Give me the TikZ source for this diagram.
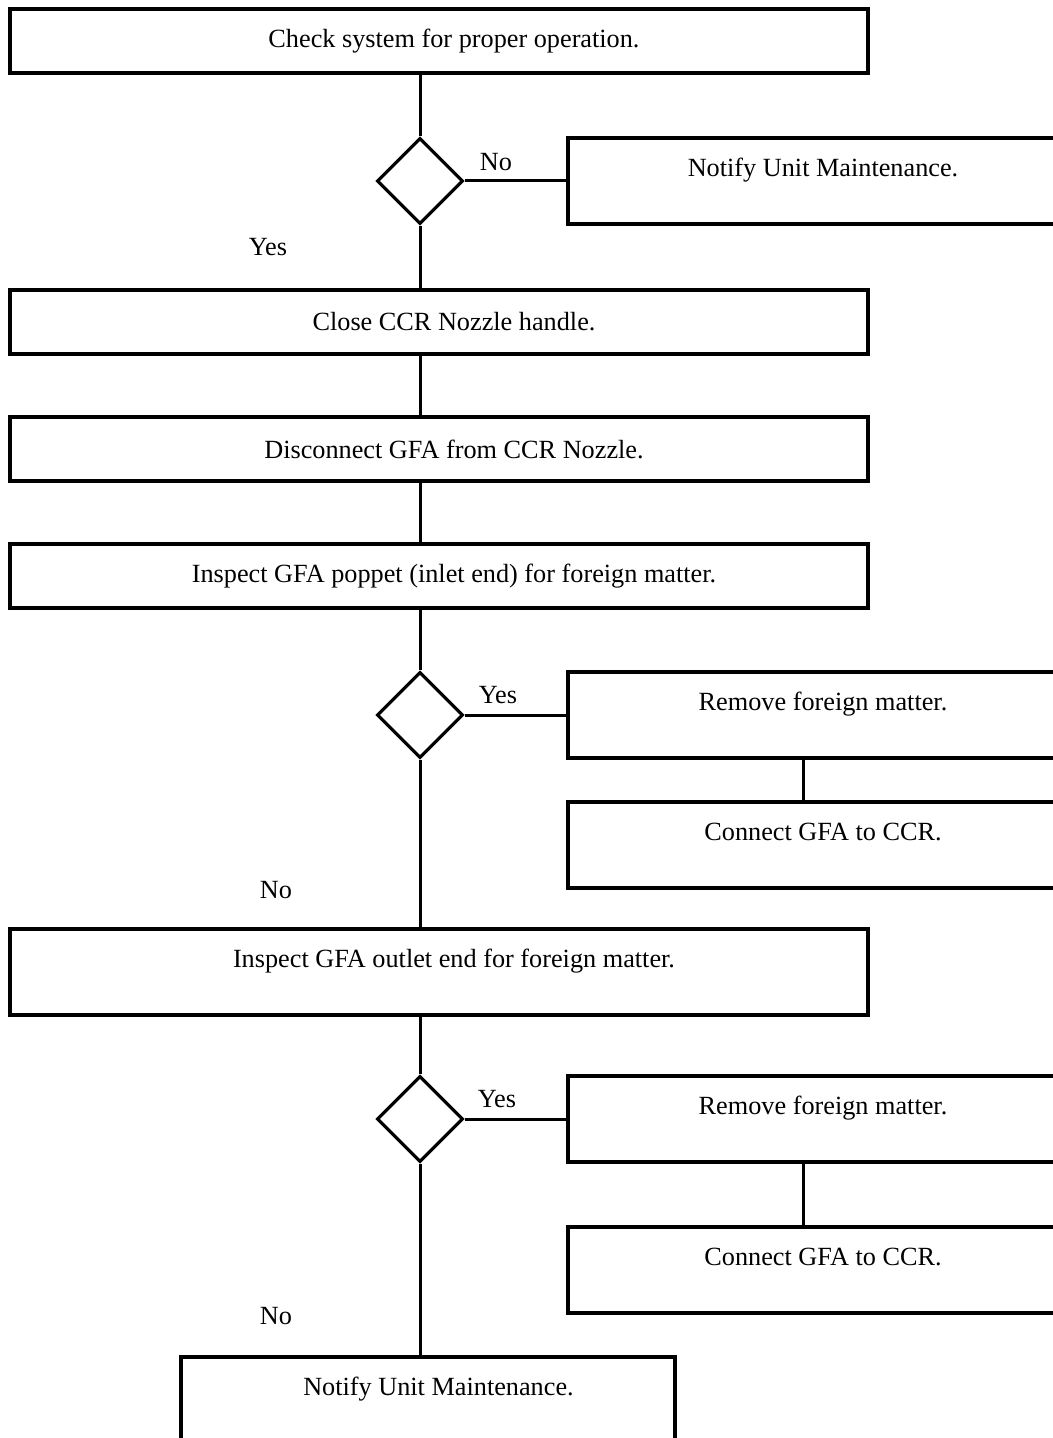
\documentclass[tikz,border=0pt]{standalone}
\usepackage{fontspec}
\setmainfont{Liberation Serif}
\usetikzlibrary{shapes.geometric}

\begin{document}
\begin{tikzpicture}[x=0.4pt,y=-0.4pt,
  font=\fontsize{10.5}{12}\selectfont,
  stepbox/.style={
    rectangle,
    draw,
    line width=1.3pt,
    inner sep=0pt,
    minimum width=343.2pt,
    minimum height=25.6pt
  },
  tallbox/.style={
    stepbox,
    minimum height=34.4pt,
    text height=7pt,
    text depth=10.6pt
  },
  sidebox/.style={
    tallbox,
    minimum width=204pt
  },
  shifted/.style={execute at begin node={\hspace*{#1}}},
  decision/.style={
    diamond,
    draw,
    line width=1.3pt,
    inner sep=0pt,
    minimum width=34.4pt,
    minimum height=34.4pt
  },
  lbl/.style={inner sep=0pt},
  link/.style={line width=1.2pt}
]
 \useasboundingbox (0,0) rectangle (1052,1438);
  \node[stepbox,shifted=12pt] (chk) at (439,41) {Check system for proper operation.};
  \node[decision] (q1) at (420,181) {};
  \node[sidebox] (ntf1) at (823,181) {Notify Unit Maintenance.};
  \node[stepbox,shifted=12pt] (cls) at (439,322) {Close CCR Nozzle handle.};
  \node[stepbox,shifted=12pt] (dis) at (439,449) {Disconnect GFA from CCR Nozzle.};
  \node[stepbox,shifted=12pt] (insp1) at (439,576) {Inspect GFA poppet (inlet end) for foreign matter.};
  \node[decision] (q2) at (420,715) {};
  \node[sidebox] (rem1) at (823,715) {Remove foreign matter.};
  \node[sidebox] (con1) at (823,845) {Connect GFA to CCR.};
  \node[tallbox,shifted=12pt] (insp2) at (439,972) {Inspect GFA outlet end for foreign matter.};
  \node[decision] (q3) at (420,1119) {};
  \node[sidebox] (rem2) at (823,1119) {Remove foreign matter.};
  \node[sidebox] (con2) at (823,1270) {Connect GFA to CCR.};
  \node[tallbox,minimum width=197.6pt,shifted=8.4pt] (ntf2) at (428,1400) {Notify Unit Maintenance.};
  \node[lbl] (no1) at (496,162) {No};
  \node[lbl] (yes1) at (268,247) {Yes};
  \node[lbl] (yes2) at (498,695) {Yes};
  \node[lbl] (no2) at (276,890) {No};
  \node[lbl] (yes3) at (497,1099) {Yes};
  \node[lbl] (no3) at (276,1316) {No};
  \draw[link] (q1.north |- chk.south)--(q1.north);
  \draw[link] (q1.east)--(ntf1.west);
  \draw[link] (q1.south)--(q1.south |- cls.north);
  \draw[link] (q1.south |- cls.south)--(q1.south |- dis.north);
  \draw[link] (q2.north |- dis.south)--(q2.north |- insp1.north);
  \draw[link] (q2.north |- insp1.south)--(q2.north);
  \draw[link] (q2.east)--(rem1.west);
  \draw[link] ([xshift=-8pt]rem1.south)--([xshift=-8pt]con1.north);
  \draw[link] (q2.south)--(q2.south |- insp2.north);
  \draw[link] (q3.north |- insp2.south)--(q3.north);
  \draw[link] (q3.east)--(rem2.west);
  \draw[link] ([xshift=-8pt]rem2.south)--([xshift=-8pt]con2.north);
  \draw[link] (q3.south)--(q3.south |- ntf2.north);
\end{tikzpicture}
\end{document}
